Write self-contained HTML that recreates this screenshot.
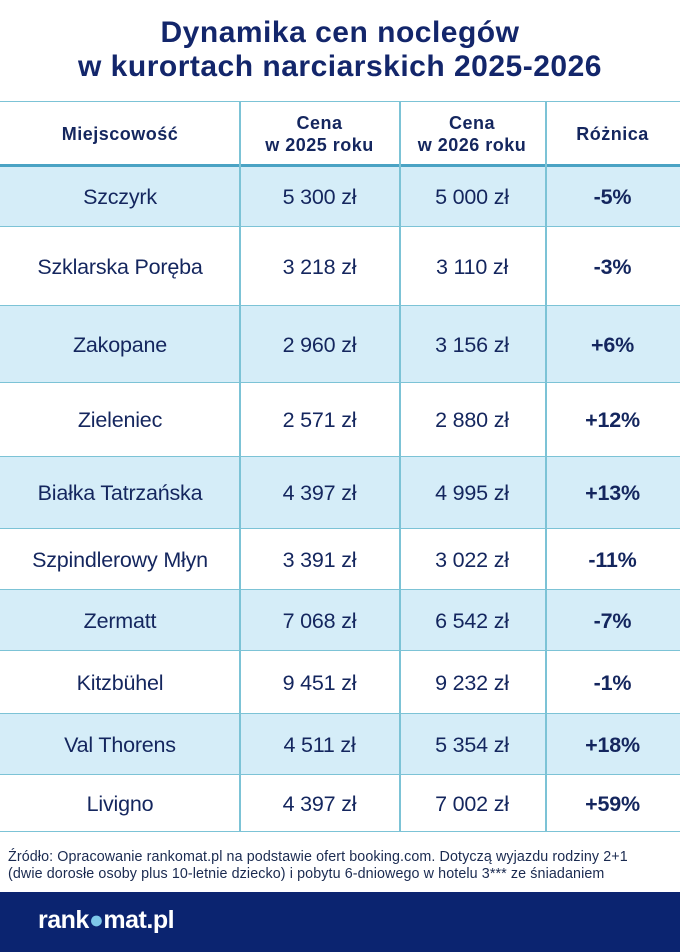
<!DOCTYPE html>
<html><head><meta charset="utf-8"><style>
*{margin:0;padding:0;box-sizing:border-box}
body{width:680px;height:952px;background:#fff;position:relative;overflow:hidden;font-family:"Liberation Sans",sans-serif;color:#14265e}
.t{position:absolute;left:0;width:680px;text-align:center;font-weight:bold;font-size:30px;color:#13266b;letter-spacing:0.5px}
.row{position:absolute;left:0;width:680px;border-bottom:1.5px solid #7cc3d6}
.sh{background:#d5edf8}
.c{position:absolute;top:1px;height:100%;display:flex;align-items:center;justify-content:center;font-size:21.5px;text-align:center;letter-spacing:-0.2px}
.c1{left:0;width:240px}.c2{left:240px;width:159px}.c3{left:399px;width:146px}.c4{left:545px;width:135px;font-weight:bold}
.v{position:absolute;top:101px;height:731px;width:1.5px;background:#7cc3d6}
.hd .c{font-weight:bold;font-size:18px;line-height:22px;letter-spacing:0.5px}
</style></head><body>
<div class="t" style="top:16px">Dynamika cen noclegów</div>
<div class="t" style="top:50px">w kurortach narciarskich 2025-2026</div>
<div class="row hd" style="top:101px;height:66px;border-top:1.5px solid #7cc3d6;border-bottom:3px solid #4aa3c4">
<div class="c c1">Miejscowość</div><div class="c c2">Cena<br>w 2025 roku</div><div class="c c3">Cena<br>w 2026 roku</div><div class="c c4">Różnica</div></div>
<div class="row sh" style="top:167px;height:60px"><div class="c c1">Szczyrk</div><div class="c c2">5 300 zł</div><div class="c c3">5 000 zł</div><div class="c c4">-5%</div></div>
<div class="row" style="top:227px;height:79px"><div class="c c1">Szklarska Poręba</div><div class="c c2">3 218 zł</div><div class="c c3">3 110 zł</div><div class="c c4">-3%</div></div>
<div class="row sh" style="top:306px;height:77px"><div class="c c1">Zakopane</div><div class="c c2">2 960 zł</div><div class="c c3">3 156 zł</div><div class="c c4">+6%</div></div>
<div class="row" style="top:383px;height:74px"><div class="c c1">Zieleniec</div><div class="c c2">2 571 zł</div><div class="c c3">2 880 zł</div><div class="c c4">+12%</div></div>
<div class="row sh" style="top:457px;height:72px"><div class="c c1">Białka Tatrzańska</div><div class="c c2">4 397 zł</div><div class="c c3">4 995 zł</div><div class="c c4">+13%</div></div>
<div class="row" style="top:529px;height:61px"><div class="c c1">Szpindlerowy Młyn</div><div class="c c2">3 391 zł</div><div class="c c3">3 022 zł</div><div class="c c4">-11%</div></div>
<div class="row sh" style="top:590px;height:61px"><div class="c c1">Zermatt</div><div class="c c2">7 068 zł</div><div class="c c3">6 542 zł</div><div class="c c4">-7%</div></div>
<div class="row" style="top:651px;height:63px"><div class="c c1">Kitzbühel</div><div class="c c2">9 451 zł</div><div class="c c3">9 232 zł</div><div class="c c4">-1%</div></div>
<div class="row sh" style="top:714px;height:61px"><div class="c c1">Val Thorens</div><div class="c c2">4 511 zł</div><div class="c c3">5 354 zł</div><div class="c c4">+18%</div></div>
<div class="row" style="top:775px;height:57px"><div class="c c1">Livigno</div><div class="c c2">4 397 zł</div><div class="c c3">7 002 zł</div><div class="c c4">+59%</div></div>
<div class="v" style="left:239px"></div><div class="v" style="left:399px"></div><div class="v" style="left:545px"></div>
<div style="position:absolute;left:8px;top:849px;font-size:14.3px;line-height:17px;color:#1a2a50;letter-spacing:0.1px;white-space:nowrap">Źródło: Opracowanie rankomat.pl na podstawie ofert booking.com. Dotyczą wyjazdu rodziny 2+1<br>(dwie dorosłe osoby plus 10-letnie dziecko) i pobytu 6-dniowego w hotelu 3*** ze śniadaniem</div>
<div style="position:absolute;left:0;top:892px;width:680px;height:60px;background:#0b2470"></div>
<div style="position:absolute;left:38px;top:906px;font-size:25px;font-weight:bold;color:#fff;letter-spacing:-0.5px">rank<span style="color:#7ec8ea">●</span>mat.pl</div>
</body></html>
